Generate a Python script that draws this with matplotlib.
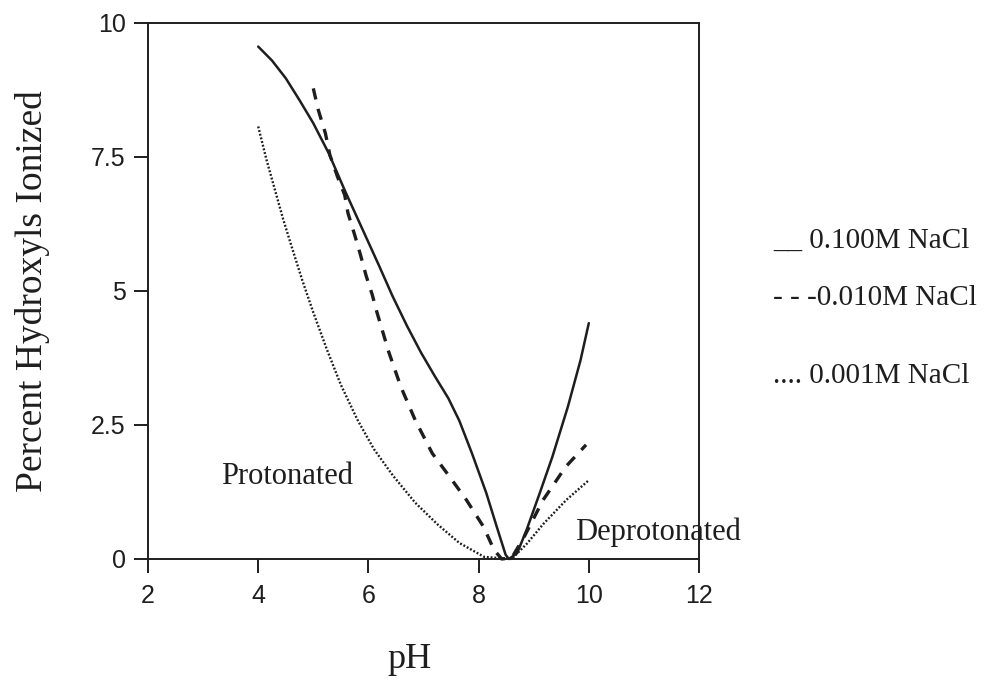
import matplotlib
matplotlib.use("Agg")
import matplotlib.pyplot as plt

# ---- data ----
ph_100 = [4.00, 4.25, 4.50, 4.75, 5.00, 5.28, 5.57, 5.88, 6.19, 6.44, 6.70, 6.95, 7.20, 7.45, 7.65, 7.88, 8.14, 8.33,
          8.49, 8.55, 8.70, 8.87, 9.11, 9.34, 9.62, 9.85, 10.0]
pct_100 = [9.56, 9.30, 8.97, 8.56, 8.13, 7.57, 6.88, 6.18, 5.48, 4.90, 4.35, 3.86, 3.42, 3.00, 2.58, 1.97, 1.23, 0.60,
           0.08, 0.0, 0.11, 0.54, 1.23, 1.91, 2.84, 3.71, 4.40]

ph_010 = [5.00, 5.09, 5.22, 5.30, 5.44, 5.57, 5.63, 5.75, 5.86, 5.96, 6.07, 6.15, 6.37, 6.59, 6.85, 7.16, 7.47, 7.78,
          8.09, 8.28, 8.42, 8.60, 8.82, 9.17, 9.58, 9.95]
pct_010 = [8.78, 8.38, 7.94, 7.54, 7.13, 6.79, 6.45, 6.05, 5.66, 5.28, 4.93, 4.62, 3.86, 3.21, 2.59, 1.97, 1.54, 1.10,
           0.60, 0.17, 0.0, 0.02, 0.40, 1.10, 1.72, 2.13]

ph_001 = [4.00, 4.15, 4.30, 4.45, 4.60, 4.80, 5.00, 5.25, 5.50, 5.80, 6.10, 6.45, 6.85, 7.25, 7.65, 8.10, 8.60,
          8.88, 9.18, 9.59, 10.0]
pct_001 = [8.07, 7.45, 6.90, 6.35, 5.85, 5.20, 4.60, 3.90, 3.25, 2.60, 2.05, 1.55, 1.05, 0.65, 0.30, 0.04, 0.0,
           0.29, 0.66, 1.10, 1.47]

x_ticks = [2, 4, 6, 8, 10, 12]
y_ticks = [0, 2.5, 5, 7.5, 10]
y_tick_labels = ["0", "2.5", "5", "7.5", "10"]
legend_labels = ["__ 0.100M NaCl", "- - -0.010M NaCl", ".... 0.001M NaCl"]

W, H = 994, 685
fig = plt.figure(figsize=(W / 100, H / 100), dpi=100)
ax = fig.add_axes([148 / W, (H - 559) / H, 551 / W, 536 / H])

serif = ["Liberation Serif", "DejaVu Serif"]
sans = ["Liberation Sans", "DejaVu Sans"]
ink = "#1e1e1e"

ax.plot(ph_100, pct_100, color=ink, lw=1.8, solid_capstyle="round", solid_joinstyle="round", clip_on=False)
ax.plot(ph_010, pct_010, color=ink, lw=2.4, dashes=(3.4, 2.9), clip_on=False)
ax.plot(ph_001, pct_001, color=ink, lw=1.7, dashes=(0.8, 0.8), clip_on=False)

ax.set_xlim(2, 12)
ax.set_ylim(0, 10)
ax.set_xticks(x_ticks)
ax.set_xticklabels([str(t) for t in x_ticks], family=sans, fontsize=18, color=ink)
ax.set_yticks(y_ticks)
ax.set_yticklabels(y_tick_labels, family=sans, fontsize=18, color=ink)
ax.tick_params(axis="x", direction="out", length=10, width=1.4, pad=8, colors=ink)
ax.tick_params(axis="y", direction="out", length=10, width=1.4, pad=6, colors=ink)
for s in ax.spines.values():
    s.set_linewidth(1.4)
    s.set_color(ink)

ax.set_xlabel("pH", family=serif, fontsize=26, color=ink, va="center")
ax.xaxis.set_label_coords((409 - 148) / 551, (559 - 660) / 536)
ax.set_ylabel("Percent Hydroxyls Ionized", family=serif, fontsize=27, color=ink, va="center")
ax.yaxis.set_label_coords((33 - 148) / 551, 0.5)

ax.text(4.52, 1.53, "Protonated", family=serif, fontsize=22, color=ink, ha="center", va="center")
ax.text(11.26, 0.50, "Deprotonated", family=serif, fontsize=22, color=ink, ha="center", va="center",
        clip_on=False)

leg_y = [241, 298, 376]
for lab, yy in zip(legend_labels, leg_y):
    fig.text(773 / W, 1 - yy / H, lab, family=serif, fontsize=21, color=ink, ha="left", va="center")

fig.savefig("out.png", dpi=100, facecolor="white")
